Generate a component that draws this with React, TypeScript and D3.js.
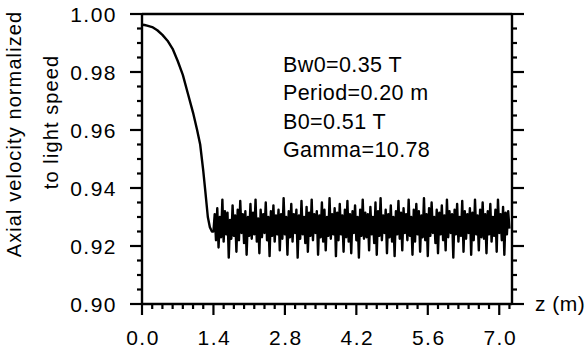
import React from "react";
import * as d3 from "d3";

// ---- data ----
const xTicks = [0.0, 1.4, 2.8, 4.2, 5.6, 7.0];
const xTickLabels = ["0.0", "1.4", "2.8", "4.2", "5.6", "7.0"];
const yTicks = [0.9, 0.92, 0.94, 0.96, 0.98, 1.0];
const yTickLabels = ["0.90", "0.92", "0.94", "0.96", "0.98", "1.00"];

// descent part: [z (m), v/c]
const descent: [number, number][] = [
  [0.0, 0.9963], [0.05, 0.9962], [0.1, 0.996], [0.2, 0.9955], [0.3, 0.9944],
  [0.4, 0.9928], [0.5, 0.9908], [0.6, 0.988], [0.7, 0.9838], [0.8, 0.979],
  [0.9, 0.9725], [1.0, 0.966], [1.08, 0.96], [1.14, 0.955], [1.2, 0.946],
  [1.24, 0.939], [1.29, 0.93], [1.33, 0.9265], [1.37, 0.925],
];

// oscillating part, sampled from z = 1.40 m every 0.025 m
const oscStart = 1.4;
const oscStep = 0.025;
const oscValues = [
  0.925, 0.931, 0.922, 0.933, 0.9195, 0.93, 0.923, 0.936, 0.9215, 0.932,
  0.924, 0.9315, 0.916, 0.929, 0.9225, 0.934, 0.9235, 0.9305, 0.918, 0.9325,
  0.922, 0.9355, 0.9245, 0.931, 0.921, 0.932, 0.917, 0.93, 0.9235, 0.9345,
  0.9225, 0.9315, 0.924, 0.936, 0.9215, 0.9295, 0.9175, 0.9325, 0.923, 0.931,
  0.9245, 0.935, 0.922, 0.93, 0.9165, 0.932, 0.9235, 0.934, 0.9215, 0.9305,
  0.924, 0.9325, 0.9185, 0.931, 0.9225, 0.9365, 0.924, 0.93, 0.917, 0.932,
  0.923, 0.9345, 0.9215, 0.931, 0.9245, 0.9325, 0.916, 0.9305, 0.9225, 0.9355,
  0.924, 0.93, 0.921, 0.9335, 0.918, 0.9315, 0.9235, 0.936, 0.922, 0.931,
  0.9245, 0.932, 0.917, 0.9305, 0.923, 0.935, 0.9215, 0.9325, 0.9185, 0.93,
  0.9235, 0.9365, 0.9225, 0.931, 0.924, 0.933, 0.9165, 0.9315, 0.922, 0.9345,
  0.924, 0.9305, 0.918, 0.9325, 0.923, 0.9355, 0.9215, 0.931, 0.9175, 0.932,
  0.9245, 0.934, 0.922, 0.93, 0.916, 0.9325, 0.9235, 0.936, 0.9225, 0.9315,
  0.923, 0.931, 0.9185, 0.9335, 0.924, 0.93, 0.921, 0.935, 0.917, 0.932,
  0.9235, 0.9365, 0.922, 0.9305, 0.9245, 0.9325, 0.9175, 0.931, 0.923, 0.934,
  0.9215, 0.93, 0.9165, 0.932, 0.924, 0.9355, 0.9225, 0.9315, 0.9185, 0.933,
  0.9245, 0.931, 0.922, 0.936, 0.9235, 0.93, 0.917, 0.9325, 0.9215, 0.9345,
  0.924, 0.932, 0.918, 0.9305, 0.923, 0.9365, 0.922, 0.931, 0.9165, 0.933,
  0.9235, 0.935, 0.9245, 0.93, 0.921, 0.9325, 0.9175, 0.9315, 0.924, 0.934,
  0.922, 0.9305, 0.9185, 0.936, 0.923, 0.932, 0.9245, 0.931, 0.916, 0.9325,
  0.924, 0.9345, 0.9215, 0.93, 0.9235, 0.9355, 0.918, 0.932, 0.9225, 0.931,
  0.9245, 0.933, 0.917, 0.9315, 0.922, 0.936, 0.924, 0.9305, 0.9185, 0.9325,
  0.923, 0.935, 0.9225, 0.931, 0.9175, 0.932, 0.924, 0.9345, 0.9215, 0.93,
  0.9235, 0.9325, 0.918, 0.936, 0.9245, 0.931, 0.922, 0.9335, 0.917, 0.9315,
  0.924, 0.932, 0.926,
];

const annotations = ["Bw0=0.35 T", "Period=0.20 m", "B0=0.51 T", "Gamma=10.78"];
const yTitle = ["Axial velocity normalized", "to light speed"];
const xTitle = "z (m)";

const W = 587;
const H = 353;
const FONT = "'Liberation Sans', Arial, Helvetica, sans-serif";

export default function App() {
  const left = 142, right = 512, top = 14, bottom = 304;
  const x = d3.scaleLinear().domain([0, 7.25]).range([left, right]);
  const y = d3.scaleLinear().domain([0.9, 1.0]).range([bottom, top]);

  const pts: [number, number][] = [
    ...descent,
    ...oscValues.map((v, i) => [oscStart + i * oscStep, v] as [number, number]),
  ];
  const line = d3
    .line<[number, number]>()
    .x((d) => x(d[0]))
    .y((d) => y(d[1]));

  const xMinor = d3.range(0, 7.21, 0.2).filter((v) => !xTicks.some((t) => Math.abs(t - v) < 1e-6));
  const yMinor = d3.range(0.9, 1.0001, 0.005).filter((v) => !yTicks.some((t) => Math.abs(t - v) < 1e-6));

  const axisW = 2.4;
  const tickW = 2.2;
  const major = 12;
  const minor = 5;

  return (
    <svg
      width={W}
      height={H}
      style={{ position: "absolute", left: 0, top: 0, background: "#fff" }}
      fontFamily={FONT}
    >
      <rect x={0} y={0} width={W} height={H} fill="#fff" />
      {/* frame */}
      <line x1={left} x2={right} y1={top} y2={top} stroke="#000" strokeWidth={axisW} />
      <line x1={left} x2={right} y1={bottom} y2={bottom} stroke="#000" strokeWidth={axisW} />
      <line x1={left} x2={left} y1={top} y2={bottom} stroke="#000" strokeWidth={axisW} />
      <line x1={right} x2={right} y1={top} y2={bottom} stroke="#000" strokeWidth={axisW} />

      {/* y ticks left & right */}
      {yTicks.map((t, i) => (
        <g key={"ym" + i}>
          <line x1={left - major} x2={left} y1={y(t)} y2={y(t)} stroke="#000" strokeWidth={tickW} />
          <line x1={right} x2={right + major} y1={y(t)} y2={y(t)} stroke="#000" strokeWidth={tickW} />
          <text
            x={117}
            y={y(t) + 7.5}
            textAnchor="end"
            fontSize={21}
            letterSpacing={1.5}
            fill="#000"
          >
            {yTickLabels[i]}
          </text>
        </g>
      ))}
      {yMinor.map((t, i) => (
        <g key={"yn" + i}>
          <line x1={left - minor} x2={left} y1={y(t)} y2={y(t)} stroke="#000" strokeWidth={tickW} />
          <line x1={right} x2={right + minor} y1={y(t)} y2={y(t)} stroke="#000" strokeWidth={tickW} />
        </g>
      ))}

      {/* x ticks */}
      {xTicks.map((t, i) => (
        <g key={"xm" + i}>
          <line x1={x(t)} x2={x(t)} y1={bottom} y2={bottom + 11} stroke="#000" strokeWidth={tickW} />
          <text
            x={x(t) + 1}
            y={345}
            textAnchor="middle"
            fontSize={21}
            letterSpacing={1.5}
            fill="#000"
          >
            {xTickLabels[i]}
          </text>
        </g>
      ))}
      {xMinor.map((t, i) => (
        <line key={"xn" + i} x1={x(t)} x2={x(t)} y1={bottom} y2={bottom + minor} stroke="#000" strokeWidth={tickW} />
      ))}

      {/* data */}
      <path d={line(pts) || ""} fill="none" stroke="#000" strokeWidth={2.4} strokeLinejoin="round" />

      {/* annotations */}
      {annotations.map((a, i) => (
        <text key={"an" + i} x={283} y={72 + i * 28.4} fontSize={21.5} letterSpacing={0.4} fill="#000">
          {a}
        </text>
      ))}

      {/* axis titles */}
      <text x={535} y={311} fontSize={21} letterSpacing={0.5} fill="#000">
        {xTitle}
      </text>
      <text
        transform={`translate(21,134) rotate(-90)`}
        textAnchor="middle"
        fontSize={20}
        letterSpacing={1.1}
        fill="#000"
      >
        {yTitle[0]}
      </text>
      <text
        transform={`translate(58,122) rotate(-90)`}
        textAnchor="middle"
        fontSize={20}
        letterSpacing={1.1}
        fill="#000"
      >
        {yTitle[1]}
      </text>
    </svg>
  );
}
